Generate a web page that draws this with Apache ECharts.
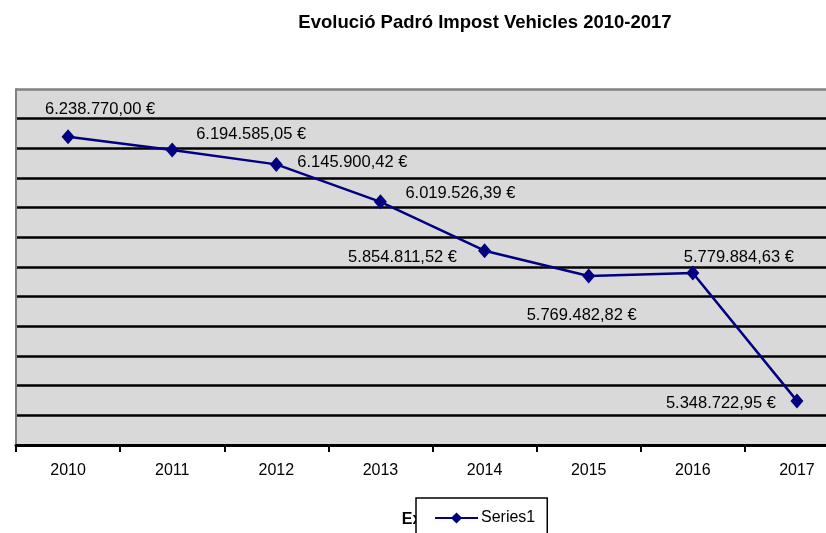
<!DOCTYPE html>
<html>
<head>
<meta charset="utf-8">
<script src="https://cdn.jsdelivr.net/npm/echarts@6/dist/echarts.min.js"></script>
<style>
html,body{margin:0;padding:0;background:#fff;}
#chart{width:826px;height:533px;}
</style>
</head>
<body>
<div id="chart"></div>
<script>
const titleText = 'Evolució Padró Impost Vehicles 2010-2017';
const categories = ['2010','2011','2012','2013','2014','2015','2016','2017'];
const seriesName = 'Series1';
const values = [6238770.00, 6194585.05, 6145900.42, 6019526.39, 5854811.52, 5769482.82, 5779884.63, 5348722.95];
const xAxisName = 'Exercici';
const yMin = 5200000, yMax = 6400000, yInterval = 100000;

// label placement (style only)
const labelOffsets = [[32,-27],[79,-15],[76,-2],[80,-8],[-82,7],[-7,39],[46,-16],[-76,3]];

function fmt(v){
  const parts = v.toFixed(2).split('.');
  const intPart = parts[0].replace(/\B(?=(\d{3})+(?!\d))/g, '.');
  return intPart + ',' + parts[1] + ' €';
}

const FONT = '"Liberation Sans", Arial, sans-serif';
const chart = echarts.init(document.getElementById('chart'), null, {renderer:'canvas'});

const nLines = Math.round((yMax - yMin) / yInterval);
const splitColors = [];
for (let i = 0; i <= nLines; i++) splitColors.push(i === nLines ? '#808080' : '#000000');

chart.setOption({
  animation: false,
  backgroundColor: '#ffffff',
  textStyle: {fontFamily: FONT},
  title: {
    text: titleText,
    left: 485, top: 13, textAlign: 'center', padding: 0,
    textStyle: {fontFamily: FONT, fontSize: 18.5, fontWeight: 'bold', color: '#000'}
  },
  legend: {
    data: [seriesName],
    left: 416, top: 498,
    padding: [12, 12, 30, 18],
    itemWidth: 43, itemHeight: 14, itemGap: 0,
    backgroundColor: '#ffffff',
    borderColor: '#000000', borderWidth: 1.5, borderRadius: 0,
    textStyle: {fontFamily: FONT, fontSize: 16, color: '#000', padding: [0,0,0,-2]}
  },
  grid: {left: 16, right: -23, top: 89, bottom: 88, show: true, backgroundColor: '#d9d9d9', borderWidth: 0, outerBoundsMode: 'none', containLabel: false},
  xAxis: {
    type: 'category',
    data: categories,
    boundaryGap: true,
    name: xAxisName,
    nameLocation: 'middle',
    nameGap: 67,
    nameTextStyle: {fontFamily: FONT, fontSize: 16, fontWeight: 'bold', color: '#000'},
    axisLine: {show: true, lineStyle: {color: '#000', width: 3}},
    axisTick: {show: true, length: 7, lineStyle: {color: '#000', width: 2}},
    axisLabel: {fontFamily: FONT, fontSize: 16, color: '#000', margin: 18},
    splitLine: {show: false}
  },
  yAxis: {
    type: 'value',
    min: yMin, max: yMax, interval: yInterval,
    axisLine: {show: true, lineStyle: {color: '#808080', width: 2}},
    axisTick: {show: false},
    axisLabel: {show: false},
    splitLine: {show: true, lineStyle: {color: splitColors, width: 2.5}}
  },
  series: [{
    name: seriesName,
    type: 'line',
    data: values.map((v, i) => ({value: v, label: {offset: labelOffsets[i]}})),
    symbol: 'diamond',
    symbolSize: [13, 15],
    lineStyle: {color: '#000080', width: 2.5},
    itemStyle: {color: '#000080'},
    label: {
      show: true,
      position: 'inside',
      align: 'center',
      verticalAlign: 'middle',
      fontFamily: FONT,
      fontSize: 16.5,
      color: '#000',
      formatter: p => fmt(p.value)
    },
    z: 3
  }]
});
</script>
</body>
</html>
